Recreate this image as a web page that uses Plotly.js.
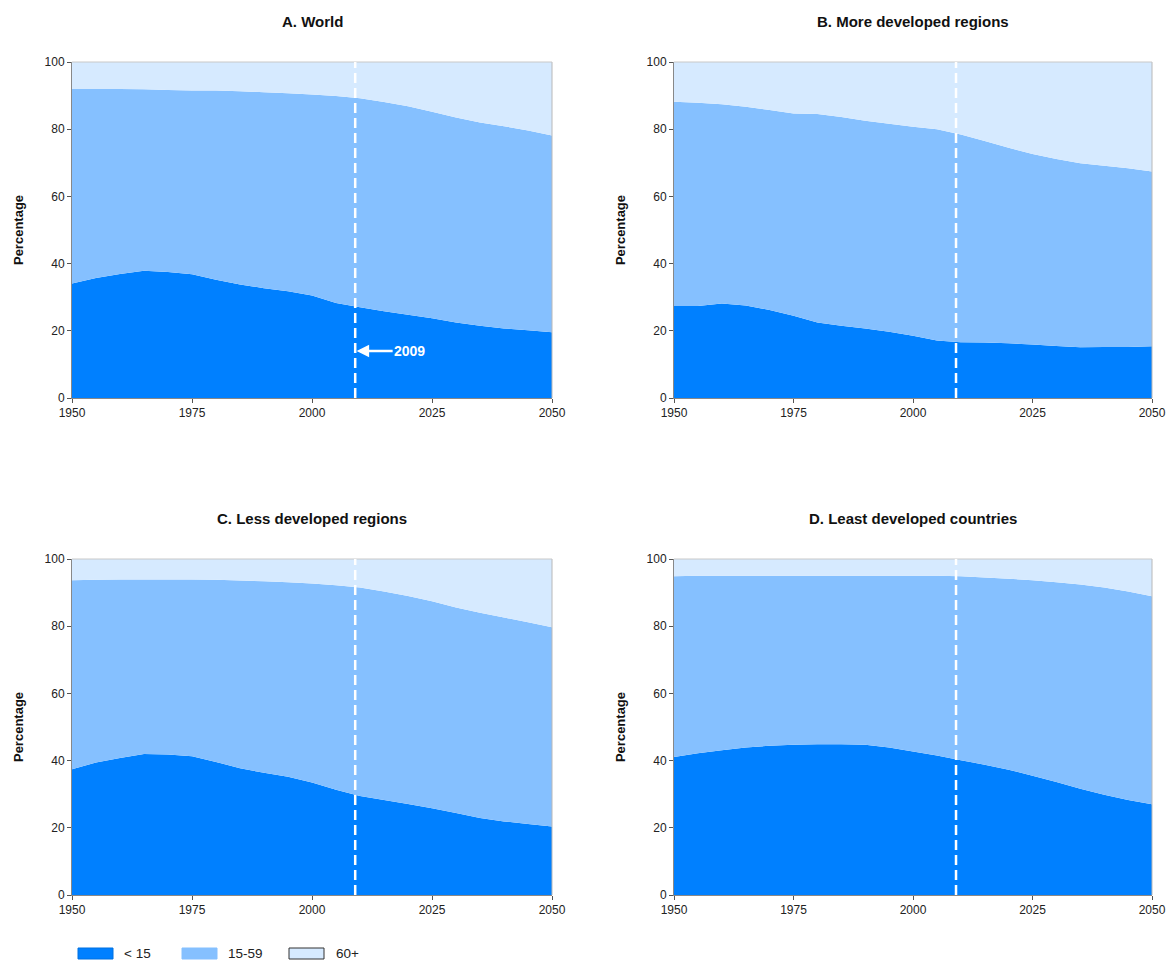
<!DOCTYPE html>
<html><head><meta charset="utf-8">
<script src="https://cdn.plot.ly/plotly-3.0.1.min.js"></script>
<style>body{margin:0;padding:0;background:#fff}#chart{width:1169px;height:962px}</style>
</head><body><div id="chart"></div>
<script>
const years = [1950,1955,1960,1965,1970,1975,1980,1985,1990,1995,2000,2005,2010,2015,2020,2025,2030,2035,2040,2045,2050];
const seriesNames = ['< 15', '15-59', '60+'];
const panelTitles = ['A. World', 'B. More developed regions', 'C. Less developed regions', 'D. Least developed countries'];
const projectionYear = 2009;

const worldUnder15 = [34.1,35.7,36.9,37.9,37.5,36.8,35.2,33.8,32.7,31.8,30.5,28.3,27.0,25.8,24.8,23.7,22.5,21.5,20.7,20.2,19.6];
const world15to59  = [57.9,56.3,55.1,54.0,54.2,54.7,56.3,57.5,58.3,58.9,59.8,61.6,62.2,62.3,62.0,61.5,61.0,60.5,60.2,59.4,58.5];
const world60plus  = [8.0,8.0,8.0,8.1,8.3,8.5,8.5,8.7,9.0,9.3,9.7,10.1,10.8,11.9,13.2,14.8,16.5,18.0,19.1,20.4,21.9];

const moreUnder15 = [27.4,27.4,28.1,27.5,26.2,24.5,22.5,21.5,20.7,19.7,18.5,17.1,16.6,16.5,16.3,15.9,15.5,15.1,15.2,15.2,15.4];
const more15to59  = [60.8,60.5,59.3,59.2,59.5,60.2,62.0,62.1,61.8,61.9,62.2,62.9,61.8,60.0,58.2,56.7,55.6,54.8,53.9,53.2,52.0];
const more60plus  = [11.8,12.1,12.6,13.3,14.3,15.3,15.5,16.4,17.5,18.4,19.3,20.0,21.6,23.5,25.5,27.4,28.9,30.1,30.9,31.6,32.6];

const lessUnder15 = [37.4,39.4,40.8,42.0,41.8,41.3,39.6,37.7,36.4,35.2,33.5,31.3,29.5,28.3,27.1,25.8,24.4,22.9,21.9,21.1,20.4];
const less15to59  = [56.3,54.4,53.1,51.9,52.1,52.6,54.2,55.9,57.0,57.9,59.2,60.9,62.0,62.0,61.9,61.6,61.2,61.1,60.7,60.1,59.3];
const less60plus  = [6.3,6.2,6.1,6.1,6.1,6.1,6.2,6.4,6.6,6.9,7.3,7.8,8.5,9.7,11.0,12.6,14.4,16.0,17.4,18.8,20.3];

const leastUnder15 = [41.1,42.2,43.1,43.9,44.4,44.7,44.9,44.9,44.7,43.9,42.7,41.5,40.1,38.8,37.3,35.5,33.6,31.6,29.8,28.3,27.0];
const least15to59  = [53.8,52.8,51.9,51.1,50.6,50.3,50.1,50.1,50.3,51.1,52.3,53.5,54.8,55.7,56.8,58.2,59.5,60.8,61.7,62.0,61.9];
const least60plus  = [5.1,5.0,5.0,5.0,5.0,5.0,5.0,5.0,5.0,5.0,5.0,5.0,5.1,5.5,5.9,6.3,6.9,7.6,8.5,9.7,11.1];

const panels = [
  [worldUnder15, world15to59, world60plus],
  [moreUnder15, more15to59, more60plus],
  [lessUnder15, less15to59, less60plus],
  [leastUnder15, least15to59, least60plus]
];
const colors = ['#0080FF', '#85C0FF', '#D6EAFF'];
const swatchBorders = ['#0070e0', '#85C0FF', '#333333'];

const W = 1169, H = 962;
const xDom = [[72/W, 552/W], [674/W, 1152/W], [72/W, 552/W], [674/W, 1152/W]];
const yDom = [[1-398/H, 1-62/H], [1-398/H, 1-62/H], [1-895/H, 1-559/H], [1-895/H, 1-559/H]];

const traces = [];
const layout = {
  width: W, height: H,
  margin: {l:0, r:0, t:0, b:0},
  paper_bgcolor: '#fff', plot_bgcolor: '#fff',
  font: {family: 'Liberation Sans, Arial, sans-serif', size: 12, color: '#222'},
  showlegend: false,
  annotations: [], shapes: []
};

panels.forEach((p, i) => {
  const n = i + 1;
  const xa = 'x' + (n === 1 ? '' : n), ya = 'y' + (n === 1 ? '' : n);
  p.forEach((vals, k) => {
    traces.push({
      type: 'scatter', mode: 'none', x: years, y: vals,
      xaxis: xa, yaxis: ya, stackgroup: 'g' + n,
      fillcolor: colors[k], line: {width: 0},
      name: seriesNames[k], showlegend: false, hoverinfo: 'x+y+name'
    });
  });
  const xk = 'xaxis' + (n === 1 ? '' : n), yk = 'yaxis' + (n === 1 ? '' : n);
  layout[xk] = {
    domain: xDom[i], anchor: ya, range: [1950, 2050],
    tickvals: [1950, 1975, 2000, 2025, 2050], ticks: 'outside', ticklen: 4, tickcolor: '#555',
    showline: true, linecolor: '#888', linewidth: 1, showgrid: false, zeroline: false,
    tickfont: {size: 12, color: '#222'}, fixedrange: true
  };
  layout[yk] = {
    domain: yDom[i], anchor: xa, range: [0, 100],
    tickvals: [0, 20, 40, 60, 80, 100], ticks: 'outside', ticklen: 4, tickcolor: '#555',
    showline: true, linecolor: '#888', linewidth: 1, showgrid: false, zeroline: false,
    tickfont: {size: 12, color: '#222'},
    title: {text: 'Percentage', font: {size: 13, color: '#111', family: 'Liberation Sans, Arial, sans-serif', weight: 'bold'}, standoff: 18},
    fixedrange: true
  };
  layout.annotations.push({
    text: '<b>' + panelTitles[i] + '</b>', xref: 'paper', yref: 'paper',
    x: (xDom[i][0] + xDom[i][1]) / 2, y: yDom[i][1] + 41/H, xanchor: 'center', yanchor: 'middle',
    showarrow: false, font: {size: 15, color: '#111'}
  });
  layout.shapes.push({type: 'line', xref: xa + ' domain', yref: ya + ' domain', x0: 1, x1: 1, y0: 0, y1: 1,
    line: {color: '#b8b8b8', width: 1}});
  layout.shapes.push({type: 'line', xref: xa + ' domain', yref: ya + ' domain', x0: 0, x1: 1, y0: 1, y1: 1,
    line: {color: '#c8c8c8', width: 1}});
  layout.shapes.push({type: 'line', xref: xa, yref: ya, x0: projectionYear, x1: projectionYear, y0: 0, y1: 100,
    line: {color: '#ffffff', width: 2.5, dash: '10px,5px'}});
});

layout.annotations.push({
  x: projectionYear + 0.3, y: 14, xref: 'x', yref: 'y',
  text: '<b>' + projectionYear + '</b>', showarrow: true, ax: 53, ay: 0,
  arrowhead: 2, arrowsize: 1, arrowwidth: 2.5, arrowcolor: '#ffffff',
  font: {size: 14, color: '#ffffff'}, standoff: 0
});

// Legend drawn in paper space (pixel layout converted to paper fractions)
const legendBoxX = [78, 182, 289];
const legendTextX = [123, 227, 335];
const legendY0 = 948, legendY1 = 959;
seriesNames.forEach((nm, k) => {
  layout.shapes.push({type: 'rect', xref: 'paper', yref: 'paper',
    x0: legendBoxX[k]/W, x1: (legendBoxX[k]+35)/W, y0: 1-legendY1/H, y1: 1-legendY0/H,
    fillcolor: colors[k], line: {color: swatchBorders[k], width: 1}});
  layout.annotations.push({text: nm, xref: 'paper', yref: 'paper', x: legendTextX[k]/W, y: 1-953.5/H,
    xanchor: 'left', yanchor: 'middle', showarrow: false, borderpad: 0,
    font: {size: 13.5, color: '#222'}});
});

Plotly.newPlot('chart', traces, layout, {displayModeBar: false, staticPlot: true});
</script></body></html>
